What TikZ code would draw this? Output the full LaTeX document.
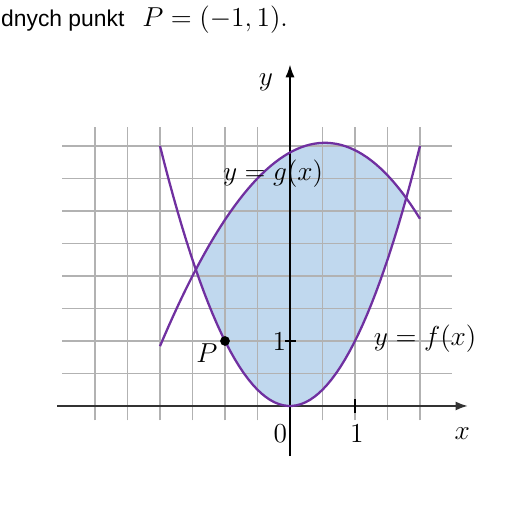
\documentclass[tikz,border=0pt]{standalone}
\usepackage{fontspec}
\newfontfamily\sansfont{Liberation Sans}
\usetikzlibrary{arrows.meta}

\begin{document}
\begin{tikzpicture}[every node/.style={font=\fontsize{12}{14}\selectfont},
  help lines/.style={line width=0.6pt,draw=gridgray},
  graph/.style={line width=1pt,draw=curve},
  axis tip/.style={-{Latex[length=5.5pt,width=4pt]}},
  declare function={f(\x)=\x*\x; g(\x)=3.9+0.55*\x-0.5*\x*\x-0.015*\x*\x*\x;}]

  \definecolor{curve}{RGB}{112,48,160}
  \definecolor{region}{RGB}{192,216,238}
  \definecolor{gridgray}{RGB}{178,178,178}

  \useasboundingbox (-4.4615,-1.646) rectangle (3.6,6.246);

  % region between the graphs
  \begin{scope}
    \clip plot[domain=-2:2,samples=60] (\x,{f(\x)}) -- (2,5) -- (-2,5) -- cycle;
    \fill[region] plot[domain=-2:2,samples=60] (\x,{g(\x)}) -- (2,0) -- (-2,0) -- cycle;
  \end{scope}

  \foreach \x in {-3,-2.5,...,2}
    \draw[help lines] (\x,-0.22) -- (\x,4.29);
  \foreach \y in {0.5,1,...,4}
    \draw[help lines] (-3.5,\y) -- (2.5,\y);

  \draw[axis tip,line width=1pt,black!80] (-3.58,0) -- (2.74,0);
  \draw[axis tip,line width=0.6pt] (0,-0.77) -- (0,5.25);
  \draw[line width=1pt] (1,-0.11) -- (1,0.11);
  \draw[line width=1pt] (-0.08,1) -- (0.1,1);

  \draw[graph] plot[domain=-2:2,samples=60] (\x,{f(\x)});
  \draw[graph] plot[domain=-2:2,samples=60] (\x,{g(\x)});

  \coordinate (P) at (-1,1);
  \fill (P) circle (0.075);

  \node (Plabel) at (-1.28,0.81) {$P$};
  \node (glabel) at (-0.26,3.58) {$y=g(x)$};
  \node (flabel) at (2.08,1.04) {$y=f(x)$};
  \node (ylabel) at (-0.37,4.98) {$y$};
  \node (xlabel) at (2.65,-0.43) {$x$};
  \node (origin) at (-0.15,-0.43) {$0$};
  \node (xone) at (1.03,-0.43) {$1$};
  \node (yone) at (-0.165,0.99) {$1$};

  \node[anchor=base west,inner sep=0pt] (caption) at (-4.45,5.835)
    {{\sansfont\fontsize{10}{12}\selectfont dnych punkt}\ \ $P=(-1,1)$.};
\end{tikzpicture}
\end{document}
